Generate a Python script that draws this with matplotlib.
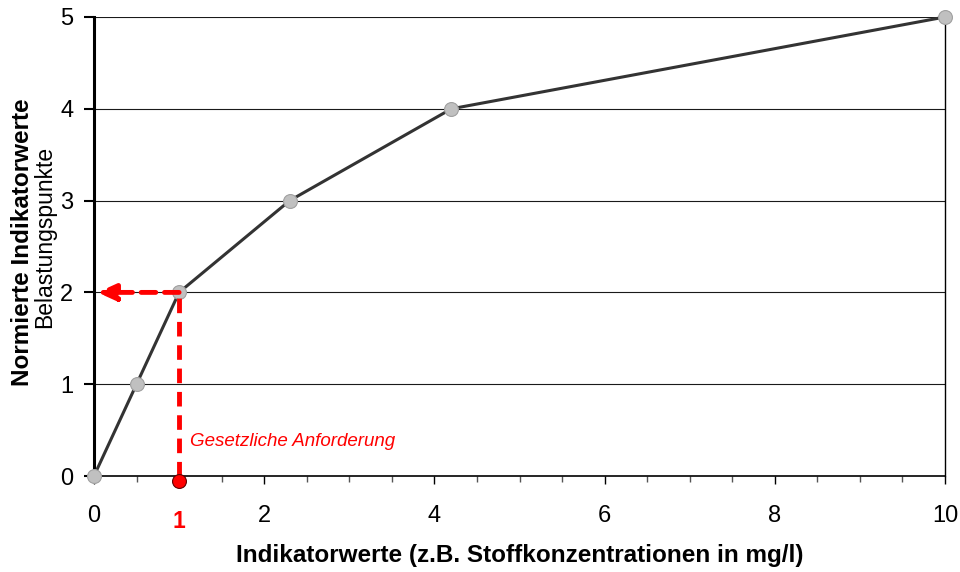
import matplotlib
matplotlib.use("Agg")
import matplotlib.pyplot as plt
from matplotlib.ticker import MultipleLocator

plt.rcParams['font.family'] = ['Liberation Sans', 'DejaVu Sans']

x_vals = [0, 0.5, 1, 2.3, 4.2, 10]
y_vals = [0, 1, 2, 3, 4, 5]
x_ticks = [0, 2, 4, 6, 8, 10]
y_ticks = [0, 1, 2, 3, 4, 5]
req_x = 1
req_y = 2
req_label = "Gesetzliche Anforderung"

fig = plt.figure(figsize=(9.6, 5.72), dpi=100)
ax = fig.add_axes([0.0979, 0.1678, 0.8865, 0.8025])
ax.set_xlim(0, 10)
ax.set_ylim(0, 5)

for y in y_ticks[1:]:
    ax.axhline(y, color='#1a1a1a', lw=0.8, zorder=1)

ax.plot(x_vals, y_vals, color='#333333', lw=2.2, zorder=3, clip_on=False,
        marker='o', markersize=10, markerfacecolor='#c0c0c0', markeredgecolor='#a0a0a0',
        markeredgewidth=0.8)

# red requirement lines
ax.plot([req_x, req_x], [0, req_y], color='red', lw=3.5, ls=(0, (3, 1.8)), zorder=4, clip_on=False)
ax.annotate('', xy=(0.04, req_y), xytext=(req_x, req_y),
            arrowprops=dict(arrowstyle='-|>,head_length=1.1,head_width=0.5', color='red', lw=3.5,
                            linestyle=(0, (3, 1.8)), shrinkA=0, shrinkB=0), zorder=4)
ax.plot([req_x], [-0.05], marker='o', markersize=10, color='red', markeredgecolor='#600000',
        markeredgewidth=0.8, clip_on=False, zorder=6)
ax.text(1.13, 0.38, req_label, color='red', style='italic', fontsize=13.5, va='center', ha='left')

ax.set_xticks(x_ticks)
ax.set_yticks(y_ticks)
ax.xaxis.set_minor_locator(MultipleLocator(0.5))
ax.tick_params(axis='x', which='major', length=6, width=1, pad=15, labelsize=17)
ax.tick_params(axis='x', which='minor', length=4, width=1, color='#555555')
ax.tick_params(axis='y', which='major', length=7, width=1.5, pad=8, labelsize=17)

ax.text(req_x, -0.49, str(req_x), color='red', fontweight='bold', fontsize=16.5,
        ha='center', va='center', transform=ax.transData)

ax.spines['top'].set_visible(False)
ax.spines['left'].set_linewidth(2.2)
ax.spines['bottom'].set_linewidth(1.2)
ax.spines['right'].set_linewidth(1.0)

ax.set_xlabel('Indikatorwerte (z.B. Stoffkonzentrationen in mg/l)', fontsize=17.5,
              fontweight='bold', labelpad=12)
fig.text(0.023, 1 - 242 / 572, 'Normierte Indikatorwerte', rotation=90, fontsize=17.5,
         fontweight='bold', ha='center', va='center')
fig.text(0.047, 1 - 237 / 572, 'Belastungspunkte', rotation=90, fontsize=16.5, ha='center', va='center')

fig.savefig('out.png', dpi=100)
